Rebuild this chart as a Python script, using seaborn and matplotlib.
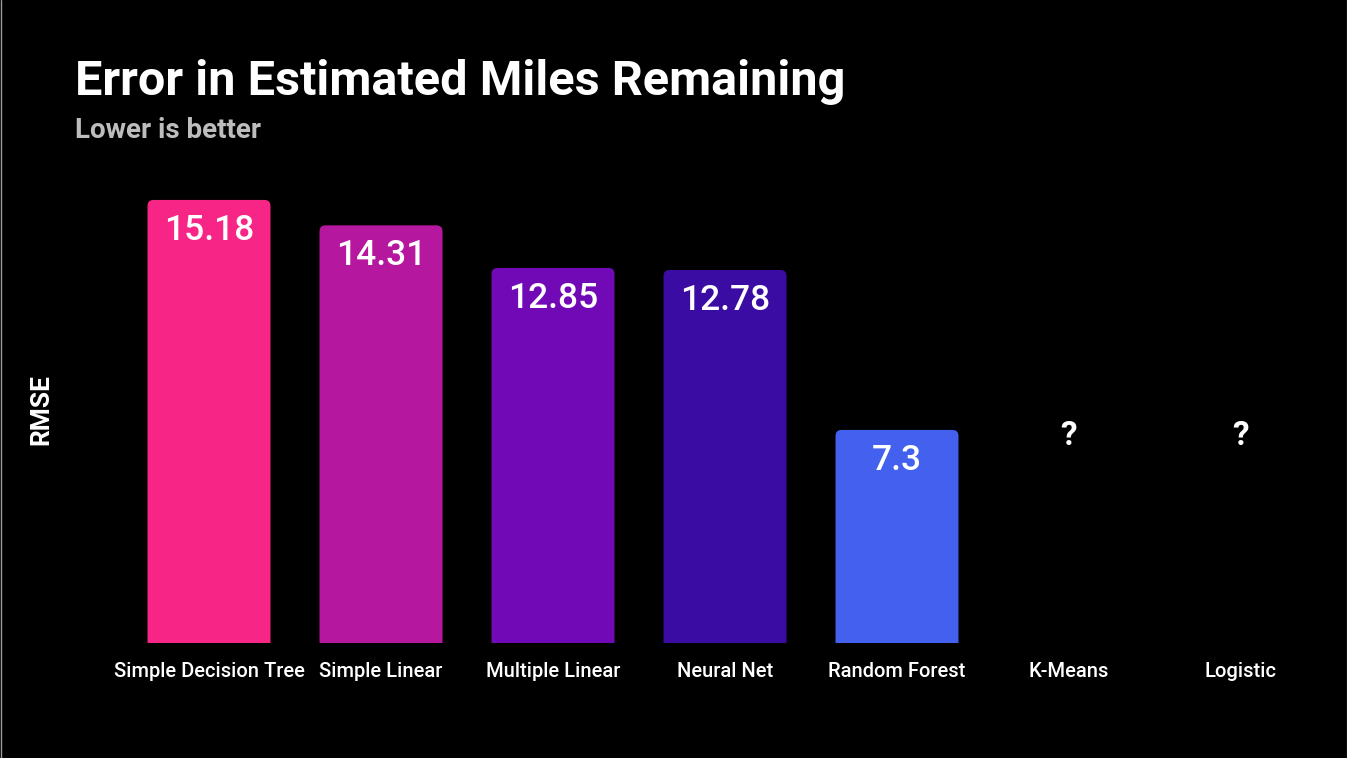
import numpy as np
import pandas as pd
import matplotlib
matplotlib.use("Agg")
import matplotlib.pyplot as plt
from matplotlib.patches import FancyBboxPatch
from matplotlib.lines import Line2D
import seaborn as sns

# Model comparison: RMSE of the miles-remaining estimate
models = ["Simple Decision Tree", "Simple Linear", "Multiple Linear",
          "Neural Net", "Random Forest", "K-Means", "Logistic"]
rmse = [15.18, 14.31, 12.85, 12.78, 7.3, np.nan, np.nan]
value_labels = ["15.18", "14.31", "12.85", "12.78", "7.3", "?", "?"]
bar_colors = ["#F72585", "#B5179E", "#7209B7", "#3A0CA3", "#4361EE",
              "#4CC9F0", "#4CC9F0"]
pending_marker_level = 7.1

sns.set_theme(style="dark")
plt.rcParams["font.family"] = ["Roboto", "DejaVu Sans"]

df = pd.DataFrame({"model": models, "rmse": rmse})

W, H = 1347, 758
fig = plt.figure(figsize=(W / 100, H / 100), dpi=100, facecolor="black")
ax = fig.add_axes([123 / W, (H - 643) / H, (1327 - 123) / W, (643 - 176) / H])
ax.set_facecolor("black")

sns.barplot(data=df, x="model", y="rmse", hue="model", palette=bar_colors,
            order=models, width=0.715, legend=False, ax=ax, saturation=1)
ax.set_xlim(-0.5, len(models) - 0.5)
ax.set_ylim(0, 16)

# Replace the square bars with ones that have rounded top corners
px_per_x = (1327 - 123) / len(models)
px_per_y = (643 - 176) / 16
aspect = px_per_x / px_per_y
for patch in list(ax.patches):
    x0, y0 = patch.get_x(), patch.get_y()
    w, h = patch.get_width(), patch.get_height()
    if not np.isfinite(h) or h == 0:
        patch.remove()
        continue
    extra = 1.0
    rounded = FancyBboxPatch((x0, y0 - extra), w, h + extra,
                             boxstyle=f"round,pad=0,rounding_size={6 / px_per_x}",
                             mutation_aspect=aspect,
                             facecolor=patch.get_facecolor(), edgecolor="none",
                             clip_on=True)
    patch.remove()
    ax.add_patch(rounded)

# Value labels inside the bars; question marks for models not yet evaluated
for i, (val, lab) in enumerate(zip(rmse, value_labels)):
    if np.isfinite(val):
        ax.annotate(lab, (i, val), xytext=(0, -10), textcoords="offset points",
                    ha="center", va="top", color="white", fontsize=25.5,
                    fontweight="medium")
    else:
        ax.text(i, pending_marker_level, lab, ha="center", va="center",
                color="white", fontsize=24, fontweight="bold")

for s in ax.spines.values():
    s.set_visible(False)
ax.set_yticks([])
ax.set_xlabel("")
ax.set_ylabel("")
ax.tick_params(axis="x", length=0, pad=14, labelsize=14.5, labelcolor="white")
for t in ax.get_xticklabels():
    t.set_fontweight("medium")

fig.text(29 / W, 1 - 410 / H, "RMSE", rotation=90, ha="left", va="center",
         color="white", fontsize=19, fontweight="semibold")

fig.text(75 / W, 1 - 95 / H, "Error in Estimated Miles Remaining",
         ha="left", va="baseline", color="white", fontsize=35,
         fontweight="bold")
fig.text(75 / W, 1 - 138 / H, "Lower is better", ha="left", va="baseline",
         color="#BDBDBD", fontsize=20, fontweight="bold")

# Thin frame lines at the left and right edges
fig.add_artist(Line2D([0.5 / W, 0.5 / W], [0, 1], color="#9a9a9a", lw=1,
                      transform=fig.transFigure))
fig.add_artist(Line2D([1 - 0.5 / W, 1 - 0.5 / W], [0, 1], color="#444444",
                      lw=1, transform=fig.transFigure))

fig.savefig("out.png", dpi=100, facecolor="black")
